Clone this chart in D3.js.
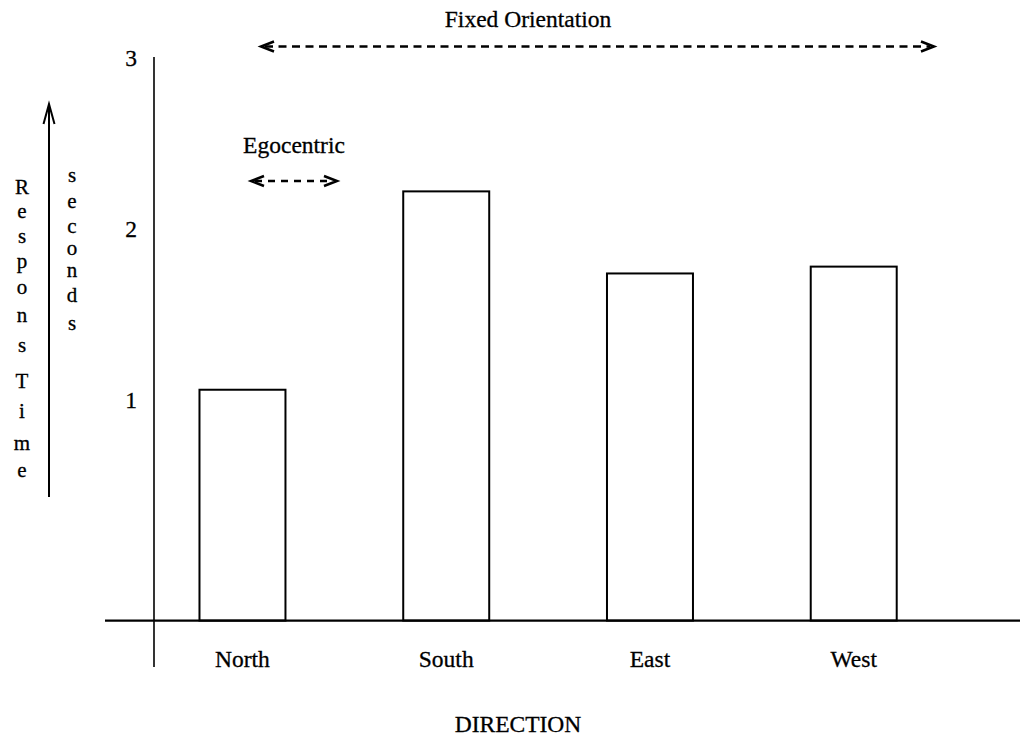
<!DOCTYPE html>
<html>
<head>
<meta charset="utf-8">
<script src="https://cdn.jsdelivr.net/npm/d3@7/dist/d3.min.js"></script>
<style>
  html, body { margin: 0; padding: 0; background: #fff; }
  svg { display: block; }
</style>
</head>
<body>
<svg id="chart" width="1023" height="738"></svg>
<script>
// ---- data ----
const categories = ["North", "South", "East", "West"];
const responseTimes = [1.06, 2.22, 1.74, 1.78];
const yTicks = [1, 2, 3];
const axisFloor = -0.29;           // value where the drawn baseline sits
const yLabelLetters = ["R", "e", "s", "p", "o", "n", "s", "T", "i", "m", "e"];
const unitLetters = ["s", "e", "c", "o", "n", "d", "s"];
const xTitle = "DIRECTION";
const spanLabels = ["Fixed Orientation", "Egocentric"];

// ---- layout ----
const svg = d3.select("#chart");
const FONT = "'Liberation Serif', Tinos, 'Times New Roman', 'DejaVu Serif', serif";
const fontSize = 23.5;

function txt(sel) {
  return sel.attr("font-family", FONT).attr("fill", "#000")
    .attr("stroke", "#000").attr("stroke-width", 0.3)
    .attr("font-size", fontSize);
}

const x = d3.scaleBand()
  .domain(categories)
  .range([140.6, 955.6])
  .paddingInner(0.578)
  .paddingOuter(0.289);

const y = d3.scaleLinear().domain([0, 3]).range([571, 58]);

const black = "#000";

// vertical axis line
svg.append("line")
  .attr("x1", 154).attr("x2", 154)
  .attr("y1", y(3) - 1).attr("y2", 667)
  .attr("stroke", black).attr("stroke-width", 1.6);

// tick labels
txt(svg.selectAll("text.ytick").data(yTicks).enter().append("text")
  .attr("class", "ytick")
  .attr("x", 137)
  .attr("y", d => y(d) + 7.5)
  .attr("text-anchor", "end"))
  .text(d => d);

// bars
svg.selectAll("rect.bar").data(responseTimes).enter().append("rect")
  .attr("class", "bar")
  .attr("x", (d, i) => x(categories[i]))
  .attr("width", x.bandwidth())
  .attr("y", d => y(d))
  .attr("height", d => y(axisFloor) - y(d))
  .attr("fill", "#fff")
  .attr("stroke", black)
  .attr("stroke-width", 2);

// baseline
svg.append("line")
  .attr("x1", 105).attr("x2", 1020)
  .attr("y1", y(axisFloor)).attr("y2", y(axisFloor))
  .attr("stroke", black).attr("stroke-width", 2.4);

// category labels
txt(svg.selectAll("text.cat").data(categories).enter().append("text")
  .attr("class", "cat")
  .attr("x", d => x(d) + x.bandwidth() / 2)
  .attr("y", 667)
  .attr("text-anchor", "middle"))
  .text(d => d);

// x title
txt(svg.append("text")
  .attr("x", 518).attr("y", 732)
  .attr("text-anchor", "middle"))
  .text(xTitle);

// y label: stacked letters
const respBaselines = [194, 218, 243, 268, 294, 322, 352, 388, 418, 450, 477];
txt(svg.selectAll("text.resp").data(yLabelLetters).enter().append("text")
  .attr("class", "resp")
  .attr("x", 22)
  .attr("y", (d, i) => respBaselines[i])
  .attr("text-anchor", "middle"))
  .attr("font-size", 21)
  .text(d => d);

const secBaselines = [182, 208, 233, 255, 277, 302, 330];
txt(svg.selectAll("text.sec").data(unitLetters).enter().append("text")
  .attr("class", "sec")
  .attr("x", 72)
  .attr("y", (d, i) => secBaselines[i])
  .attr("text-anchor", "middle"))
  .attr("font-size", 21)
  .text(d => d);

// vertical arrow
svg.append("line")
  .attr("x1", 49).attr("x2", 49)
  .attr("y1", 105).attr("y2", 497)
  .attr("stroke", black).attr("stroke-width", 2);
svg.append("path")
  .attr("d", "M43.5,124 L49,104 L54.5,124")
  .attr("fill", "none").attr("stroke", black).attr("stroke-width", 2);

// dashed double arrows
function dashedArrow(x1, x2, yy, dash, head) {
  svg.append("line")
    .attr("x1", x1 + 4).attr("x2", x2 - 4)
    .attr("y1", yy).attr("y2", yy)
    .attr("stroke", black).attr("stroke-width", 2.5)
    .attr("stroke-dasharray", dash);
  [[x1, 1], [x2, -1]].forEach(([px, s]) => {
    svg.append("path")
      .attr("d", `M${px + s * head},${yy - 5} L${px},${yy} L${px + s * head},${yy + 5}`)
      .attr("fill", "none").attr("stroke", black).attr("stroke-width", 2.5);
  });
}

dashedArrow(261, 934, 46.5, "8,5.5", 13);
dashedArrow(251, 337, 181, "7,6", 13);

txt(svg.append("text")
  .attr("x", 528).attr("y", 27)
  .attr("text-anchor", "middle"))
  .text(spanLabels[0]);

txt(svg.append("text")
  .attr("x", 294).attr("y", 153)
  .attr("text-anchor", "middle"))
  .text(spanLabels[1]);
</script>
</body>
</html>
